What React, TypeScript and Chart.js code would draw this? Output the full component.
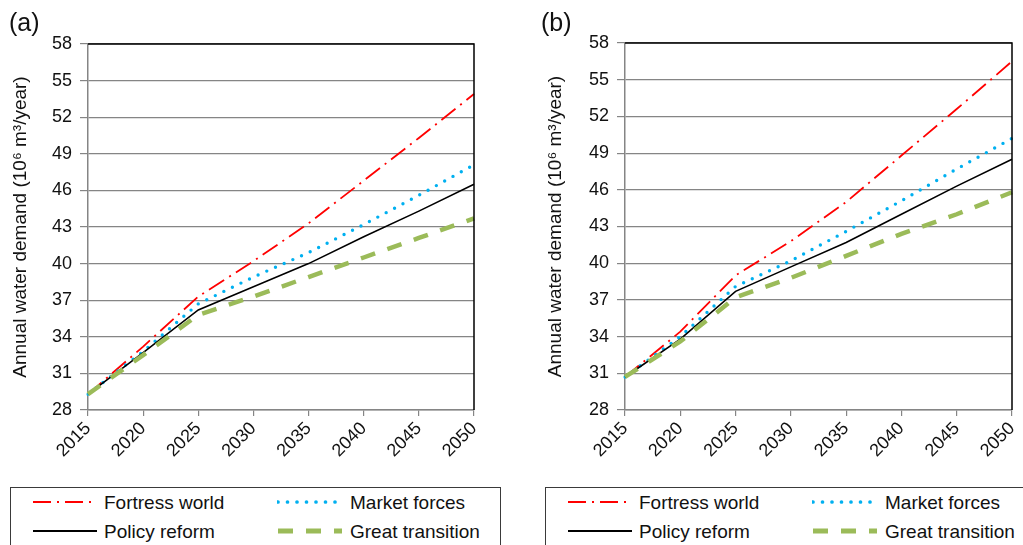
import React, { useEffect, useRef } from "react";
import { Chart, registerables } from "chart.js";

Chart.register(...registerables);

// ---- data ----
const years = ["2015", "2020", "2025", "2030", "2035", "2040", "2045", "2050"];
const seriesNames = ["Fortress world", "Market forces", "Policy reform", "Great transition"];

const fortressA = [29.3, 33.2, 37.3, 40.2, 43.3, 46.8, 50.3, 53.9];
const marketA = [29.3, 32.8, 36.7, 38.9, 40.9, 43.2, 45.6, 48.1];
const policyA = [29.3, 32.7, 36.2, 38.1, 40.0, 42.2, 44.3, 46.5];
const transitionA = [29.3, 32.5, 35.8, 37.3, 38.9, 40.5, 42.1, 43.7];

const fortressB = [30.7, 34.4, 39.0, 41.8, 45.0, 48.8, 52.6, 56.5];
const marketB = [30.7, 34.0, 38.1, 40.2, 42.6, 45.1, 47.7, 50.2];
const policyB = [30.7, 33.8, 37.7, 39.7, 41.7, 44.0, 46.3, 48.5];
const transitionB = [30.7, 33.6, 37.2, 38.8, 40.6, 42.4, 44.0, 45.8];

const yMin = 28;
const yMax = 58;
const yStep = 3;
const panelLabels = ["(a)", "(b)"];
const yTitle = "Annual water demand (10\u2076 m\u00b3/year)";

// ---- styles ----
const FONT = "'Liberation Sans', Arial, sans-serif";
const TEXT = "#111";
const GRID = "#858585";

type SeriesStyle = { color: string; width: number; dash: number[]; cap: "butt" | "round"; order: number };
const seriesStyles: SeriesStyle[] = [
  { color: "#FF0000", width: 1.8, dash: [18, 6, 2, 6], cap: "butt", order: 4 },
  { color: "#00B0F0", width: 3.4, dash: [0, 9.5], cap: "round", order: 3 },
  { color: "#000000", width: 1.6, dash: [], cap: "butt", order: 2 },
  { color: "#9BBB59", width: 4.5, dash: [15, 13], cap: "butt", order: 1 },
];

const framePlugin = {
  id: "frame",
  afterDraw(chart: any) {
    const { ctx, chartArea: a } = chart;
    ctx.save();
    ctx.strokeStyle = "#000";
    ctx.lineWidth = 1.5;
    ctx.beginPath();
    ctx.moveTo(a.left, a.top);
    ctx.lineTo(a.right, a.top);
    ctx.lineTo(a.right, a.bottom);
    ctx.stroke();
    ctx.restore();
  },
};

const CANVAS_H = 480;
const PLOT_BOTTOM = 410;

type PanelProps = {
  x: number;
  w: number;
  padLeft: number;
  plotLeft: number;
  plotRight: number;
  plotTop: number;
  series: number[][];
};

function ChartPanel({ x, w, padLeft, plotLeft, plotRight, plotTop, series }: PanelProps) {
  const ref = useRef<HTMLCanvasElement>(null);
  useEffect(() => {
    const chart = new Chart(ref.current as HTMLCanvasElement, {
      type: "line",
      data: {
        labels: years,
        datasets: series.map((d, i) => ({
          label: seriesNames[i],
          data: d,
          borderColor: seriesStyles[i].color,
          backgroundColor: seriesStyles[i].color,
          borderWidth: seriesStyles[i].width,
          borderDash: seriesStyles[i].dash,
          borderCapStyle: seriesStyles[i].cap,
          order: seriesStyles[i].order,
          pointRadius: 0,
          tension: 0,
          fill: false,
        })),
      },
      options: {
        animation: false,
        responsive: false,
        devicePixelRatio: 1,
        layout: { padding: { left: padLeft, top: plotTop, right: w - plotRight, bottom: 0 } },
        plugins: { legend: { display: false }, tooltip: { enabled: false } },
        scales: {
          x: {
            type: "category",
            offset: false,
            afterFit: (s: any) => {
              s.height = CANVAS_H - PLOT_BOTTOM;
              s.paddingLeft = 0;
              s.paddingRight = 0;
            },
            grid: { drawOnChartArea: false, drawTicks: true, tickLength: 6, color: GRID, lineWidth: 1.2 },
            border: { color: GRID, width: 1.5 },
            ticks: {
              autoSkip: false,
              maxRotation: 45,
              minRotation: 45,
              padding: 2,
              color: TEXT,
              font: { family: FONT, size: 18 },
            },
          },
          y: {
            min: yMin,
            max: yMax,
            afterFit: (s: any) => {
              s.width = plotLeft - padLeft;
              s.paddingTop = 0;
              s.paddingBottom = 0;
            },
            grid: { drawOnChartArea: true, drawTicks: true, tickLength: 8, color: GRID, lineWidth: 1.2 },
            border: { color: GRID, width: 1.5 },
            ticks: { stepSize: yStep, padding: 8, color: TEXT, font: { family: FONT, size: 18 } },
            title: {
              display: true,
              text: yTitle,
              color: TEXT,
              font: { family: FONT, size: 19 },
              padding: { top: 9, bottom: 0 },
            },
          },
        },
      },
      plugins: [framePlugin],
    } as any);
    return () => chart.destroy();
  }, []);
  return (
    <canvas
      ref={ref}
      width={w}
      height={CANVAS_H}
      style={{ position: "absolute", left: x, top: 0, width: w, height: CANVAS_H }}
    />
  );
}

function Sample({ i }: { i: number }) {
  const s = seriesStyles[i];
  return (
    <svg width={66} height={10} style={{ display: "block" }}>
      <line
        x1={1}
        y1={5}
        x2={65}
        y2={5}
        stroke={s.color}
        strokeWidth={s.width + 0.3}
        strokeDasharray={s.dash.length ? s.dash.join(" ") : undefined}
        strokeLinecap={s.cap}
      />
    </svg>
  );
}

function Legend({ x, w }: { x: number; w: number }) {
  const cols = [
    { sx: 21, tx: 93 },
    { sx: 266, tx: 339 },
  ];
  const rows = [15, 44];
  const items = [
    { i: 0, c: 0, r: 0 },
    { i: 1, c: 1, r: 0 },
    { i: 2, c: 0, r: 1 },
    { i: 3, c: 1, r: 1 },
  ];
  return (
    <div
      style={{
        position: "absolute",
        left: x,
        top: 487,
        width: w,
        height: 80,
        border: "1.5px solid #3a3a3a",
        boxSizing: "border-box",
      }}
    >
      {items.map((it) => (
        <React.Fragment key={it.i}>
          <div style={{ position: "absolute", left: cols[it.c].sx, top: rows[it.r] - 6 }}>
            <Sample i={it.i} />
          </div>
          <div
            style={{
              position: "absolute",
              left: cols[it.c].tx,
              top: rows[it.r] - 12,
              fontFamily: FONT,
              fontSize: 19,
              lineHeight: "23px",
              color: TEXT,
              whiteSpace: "nowrap",
            }}
          >
            {seriesNames[it.i]}
          </div>
        </React.Fragment>
      ))}
    </div>
  );
}

export default function App() {
  return (
    <div
      style={{
        position: "absolute",
        left: 0,
        top: 0,
        width: 1023,
        height: 545,
        overflow: "hidden",
        background: "#fff",
      }}
    >
      <ChartPanel
        x={0}
        w={520}
        padLeft={0}
        plotLeft={88}
        plotRight={474}
        plotTop={44}
        series={[fortressA, marketA, policyA, transitionA]}
      />
      <ChartPanel
        x={520}
        w={503}
        padLeft={15}
        plotLeft={105}
        plotRight={492}
        plotTop={43}
        series={[fortressB, marketB, policyB, transitionB]}
      />
      <div style={{ position: "absolute", left: 9, top: 8, fontFamily: FONT, fontSize: 25, lineHeight: "28px", color: TEXT }}>
        {panelLabels[0]}
      </div>
      <div style={{ position: "absolute", left: 541, top: 8, fontFamily: FONT, fontSize: 25, lineHeight: "28px", color: TEXT }}>
        {panelLabels[1]}
      </div>
      <Legend x={10} w={491} />
      <Legend x={545} w={490} />
    </div>
  );
}
